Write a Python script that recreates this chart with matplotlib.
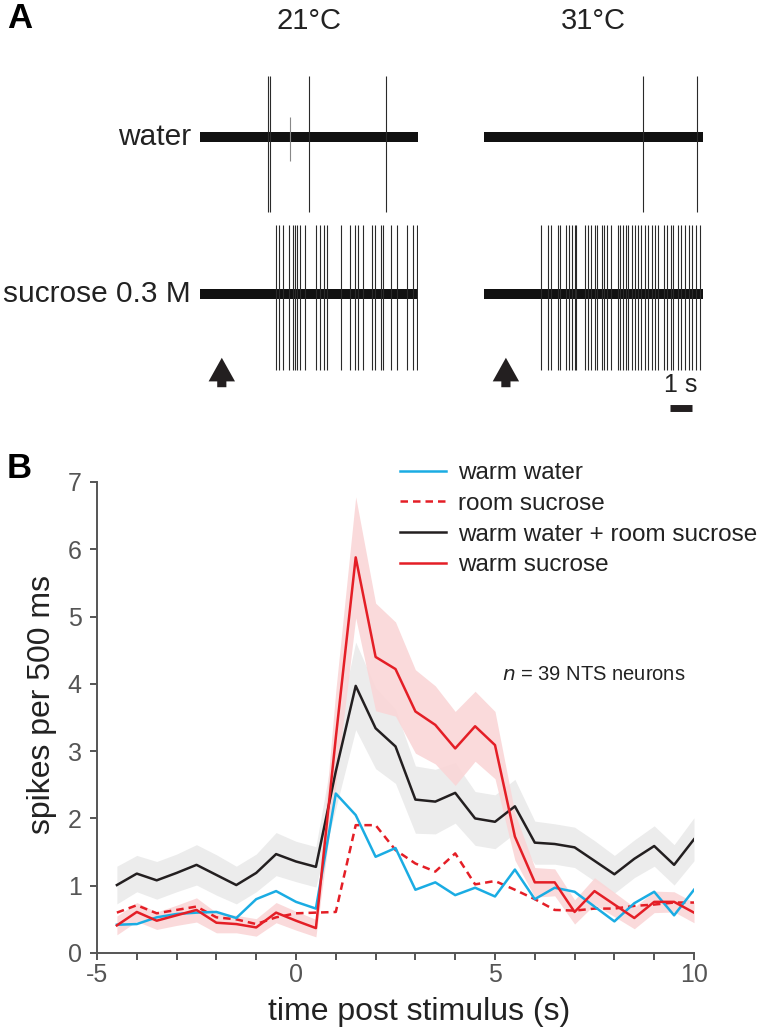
import numpy as np
import matplotlib
matplotlib.use("Agg")
import matplotlib.pyplot as plt
from matplotlib.ticker import MultipleLocator, FuncFormatter
from matplotlib.transforms import blended_transform_factory

plt.rcParams['font.family'] = ['Liberation Sans', 'DejaVu Sans']

# ---------------- data: panel A (spike times, s re. stimulus) ----------------
trace_window = [-1.0, 9.0]
water_21_spikes = [2.11, 2.20, 3.99, 7.52]
water_21_small = [3.12]
water_31_spikes = [6.28, 8.72]
sucrose_21_spikes = [2.48, 2.63, 2.81, 3.06, 3.27, 3.36, 3.45, 3.58, 3.82, 4.34,
                     4.50, 4.68, 4.83, 5.49, 5.87, 6.13, 6.25, 6.48, 6.91, 7.02,
                     7.28, 7.40, 7.74, 8.04, 8.50, 8.75, 8.96]
sucrose_31_spikes = [1.61, 1.94, 2.06, 2.40, 2.49, 2.75, 2.90, 3.01, 3.16, 3.22,
                     3.59, 3.75, 3.87, 4.08, 4.17, 4.39, 4.48, 4.63, 4.79, 5.12,
                     5.23, 5.35, 5.50, 5.58, 5.77, 5.89, 6.04, 6.19, 6.34, 6.50,
                     6.65, 6.80, 6.96, 7.23, 7.34, 7.54, 7.65, 7.84, 8.00, 8.18,
                     8.34, 8.52, 8.67, 8.87]
water_amp = [-0.94, 0.76]      # relative spike extent (down, up)
sucrose_amp = [-0.95, 0.86]
noise_half = 0.06
conditions = ["21°C", "31°C"]
row_labels = ["water", "sucrose 0.3 M"]

# ---------------- data: panel B (PSTH) ----------------
time_s = [-4.5, -4, -3.5, -3, -2.5, -2, -1.5, -1, -0.5, 0, 0.5, 1, 1.5, 2, 2.5,
          3, 3.5, 4, 4.5, 5, 5.5, 6, 6.5, 7, 7.5, 8, 8.5, 9, 9.5, 10]
warm_water = [0.42, 0.43, 0.53, 0.58, 0.60, 0.61, 0.52, 0.80, 0.92, 0.76, 0.66,
              2.37, 2.05, 1.43, 1.56, 0.94, 1.05, 0.86, 0.97, 0.84, 1.24, 0.80,
              0.97, 0.91, 0.69, 0.47, 0.74, 0.91, 0.56, 0.94]
room_sucrose = [0.60, 0.71, 0.59, 0.64, 0.69, 0.53, 0.50, 0.43, 0.53, 0.59, 0.60,
                0.61, 1.90, 1.90, 1.53, 1.33, 1.21, 1.48, 1.02, 1.07, 0.94, 0.80,
                0.64, 0.63, 0.66, 0.66, 0.70, 0.72, 0.75, 0.75]
sum_water_sucrose = [1.01, 1.18, 1.08, 1.19, 1.31, 1.16, 1.01, 1.19, 1.47, 1.36, 1.28,
                     2.70, 3.97, 3.34, 3.07, 2.28, 2.25, 2.38, 2.00, 1.95, 2.18, 1.64,
                     1.62, 1.57, 1.37, 1.17, 1.40, 1.59, 1.31, 1.69]
sum_sem = [0.28, 0.27, 0.28, 0.28, 0.30, 0.30, 0.28, 0.28, 0.32, 0.30, 0.30,
           0.55, 0.65, 0.60, 0.55, 0.50, 0.48, 0.45, 0.40, 0.40, 0.40, 0.32,
           0.30, 0.30, 0.30, 0.28, 0.28, 0.30, 0.30, 0.32]
warm_sucrose = [0.41, 0.61, 0.48, 0.56, 0.64, 0.45, 0.43, 0.38, 0.60, 0.48, 0.37,
                3.20, 5.88, 4.40, 4.22, 3.59, 3.39, 3.04, 3.37, 3.09, 1.73, 1.05,
                1.05, 0.61, 0.92, 0.72, 0.52, 0.76, 0.76, 0.60]
warm_sucrose_sem = [0.14, 0.14, 0.13, 0.15, 0.18, 0.15, 0.13, 0.13, 0.15, 0.14, 0.13,
                    0.70, 0.90, 0.80, 0.70, 0.62, 0.58, 0.55, 0.52, 0.50, 0.35, 0.22,
                    0.20, 0.18, 0.20, 0.18, 0.16, 0.16, 0.15, 0.15]
legend_labels = ["warm water", "room sucrose", "warm water + room sucrose", "warm sucrose"]

BLUE = "#1AACE3"
RED = "#E41E26"
BLACK = "#231F20"
PINK = "#FAD6D7"
GREY_BAND = "#ECECEC"
AXGREY = "#555555"
TXT = "#222222"

W, H = 760, 1032
fig = plt.figure(figsize=(W / 100, H / 100), dpi=100)


def px_axes(x0, y0, x1, y1):
    """axes from pixel box (top-left origin)"""
    return fig.add_axes([x0 / W, 1 - y1 / H, (x1 - x0) / W, (y1 - y0) / H])


# ---------------- Panel A ----------------
trace_boxes = {
    (0, 0): (200, 57, 418, 217), (0, 1): (484, 57, 703, 217),
    (1, 0): (200, 214, 418, 374), (1, 1): (484, 214, 703, 374),
}
spike_sets = {
    (0, 0): (water_21_spikes, water_amp), (0, 1): (water_31_spikes, water_amp),
    (1, 0): (sucrose_21_spikes, sucrose_amp), (1, 1): (sucrose_31_spikes, sucrose_amp),
}
trace_axes = {}
for key, box in trace_boxes.items():
    ax = px_axes(*box)
    ax.set_xlim(trace_window)
    ax.set_ylim(-1, 1)
    ax.axis("off")
    ax.fill_between(trace_window, -noise_half, noise_half, color="#111111", lw=0)
    spikes, amp = spike_sets[key]
    ax.vlines(spikes, amp[0], amp[1], color="#2a2a2a", lw=0.8)
    trace_axes[key] = ax
trace_axes[(0, 0)].vlines(water_21_small, -0.3, 0.25, color="#888888", lw=0.8)

for j, cond in enumerate(conditions):
    ax = trace_axes[(0, j)]
    tr = blended_transform_factory(ax.transAxes, fig.transFigure)
    ax.text(0.5, 1 - 21 / H, cond, transform=tr, ha="center", va="center",
            fontsize=21, color=TXT)
for i, lab in enumerate(row_labels):
    fig.text(191 / W, 1 - (137 if i == 0 else 294) / H, lab, ha="right",
             va="center", fontsize=21.5, color=TXT)

# stimulus arrows
for j in range(2):
    ax = trace_axes[(1, j)]
    ax.annotate("", xy=(0, H - 355), xytext=(0, H - 390),
                xycoords=("data", "figure pixels"), textcoords=("data", "figure pixels"),
                arrowprops=dict(arrowstyle="simple,head_length=0.85,head_width=0.95,tail_width=0.33",
                                mutation_scale=20, color=BLACK, lw=0),
                annotation_clip=False)

# scale bar 1 s
ax = trace_axes[(1, 1)]
tr = blended_transform_factory(ax.transData, fig.transFigure)
sb0 = 7.5
ax.plot([sb0, sb0 + 1.0], [1 - 408 / H] * 2, transform=tr, color=BLACK, lw=5,
        solid_capstyle="butt", clip_on=False)
ax.text(sb0 + 0.5, 1 - 385 / H, "1 s", transform=tr, ha="center", va="center",
        fontsize=18, color=TXT)

fig.text(7 / W, 1 - 18 / H, "A", fontsize=25, fontweight="bold", va="center", ha="left")
fig.text(7 / W, 1 - 469 / H, "B", fontsize=25, fontweight="bold", va="center", ha="left")

# ---------------- Panel B ----------------
axb = px_axes(97, 482, 694, 953)
t = np.array(time_s)
axb.fill_between(t, np.array(sum_water_sucrose) - np.array(sum_sem),
                 np.array(sum_water_sucrose) + np.array(sum_sem),
                 color=GREY_BAND, lw=0, zorder=1)
axb.fill_between(t, np.array(warm_sucrose) - np.array(warm_sucrose_sem),
                 np.array(warm_sucrose) + np.array(warm_sucrose_sem),
                 color=PINK, alpha=0.9, lw=0, zorder=2)
lw = 1.8
l1, = axb.plot(t, warm_water, color=BLUE, lw=lw, zorder=5)
l2, = axb.plot(t, room_sucrose, color=RED, lw=lw, ls=(0, (3, 2)), zorder=4)
l3, = axb.plot(t, sum_water_sucrose, color=BLACK, lw=lw, zorder=3)
l4, = axb.plot(t, warm_sucrose, color=RED, lw=lw, zorder=6)

axb.set_xlim(-5, 10)
axb.set_ylim(0, 7)
for s in ["top", "right"]:
    axb.spines[s].set_visible(False)
for s in ["left", "bottom"]:
    axb.spines[s].set_color(AXGREY)
    axb.spines[s].set_linewidth(1.4)
axb.xaxis.set_major_locator(MultipleLocator(1))
axb.xaxis.set_major_formatter(FuncFormatter(lambda v, p: f"{v:g}" if round(v) % 5 == 0 else ""))
axb.yaxis.set_major_locator(MultipleLocator(1))
axb.tick_params(axis="both", direction="out", length=5, width=1.4, color=AXGREY,
                labelcolor=AXGREY, labelsize=18)
axb.tick_params(axis="x", pad=2)
axb.tick_params(axis="y", pad=6)
axb.set_xlabel("time post stimulus (s)", fontsize=23, color=TXT)
axb.set_ylabel("spikes per 500 ms", fontsize=23, color=TXT)
axb.xaxis.set_label_coords((419 - 97) / 597, -(1012 - 953) / 471)
axb.yaxis.set_label_coords(-(97 - 42) / 597, (953 - 705) / 471)
axb.xaxis.label.set_va("center")
axb.yaxis.label.set_va("center")

leg = axb.legend([l1, l2, l3, l4], legend_labels, loc="upper left",
                 bbox_to_anchor=(400 / W, 1 - 462 / H), bbox_transform=fig.transFigure,
                 frameon=False, fontsize=17.5, handlelength=1.9, handletextpad=0.5,
                 labelspacing=0.36, borderaxespad=0, borderpad=0)
for txt in leg.get_texts():
    txt.set_color(TXT)

fig.text(502 / W, 1 - 675 / H, r"$\it{n}$ = 39 NTS neurons", fontsize=14.5,
         color=TXT, ha="left", va="center")

fig.savefig("out.png", dpi=100)
